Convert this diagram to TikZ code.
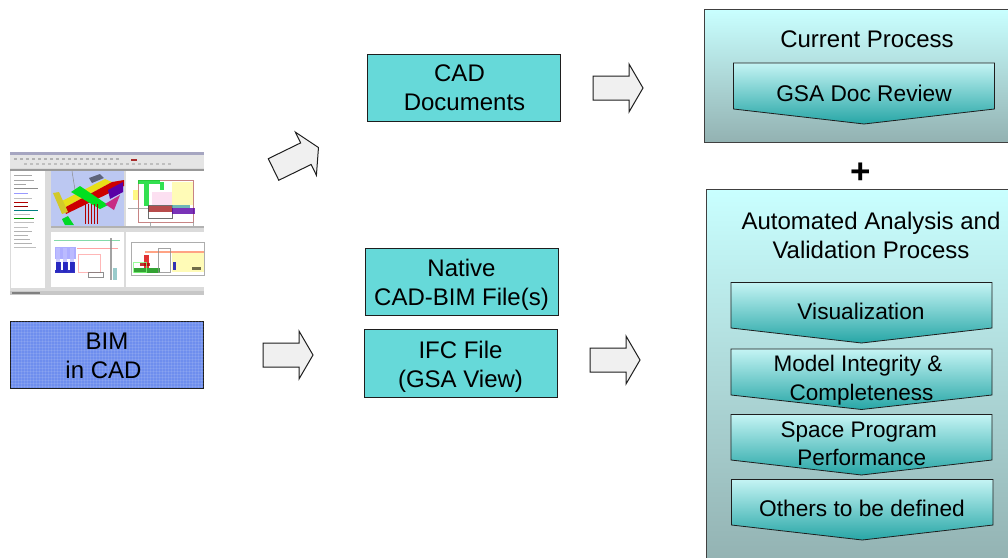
\documentclass[tikz,border=0pt]{standalone}
\usepackage{fontspec}
\setmainfont{Liberation Sans}
\definecolor{teal1}{HTML}{66D9D9}
\definecolor{bluebox}{HTML}{6E8EEE}
\definecolor{panelT}{HTML}{C9FFFF}
\definecolor{panelB}{HTML}{93B2B2}
\definecolor{chevT}{HTML}{C4F4F4}
\definecolor{chevB}{HTML}{27A6A6}
\definecolor{edge}{HTML}{1E1E1E}
\definecolor{viewbg}{HTML}{BCC8F2}
\tikzset{
  txt/.style={font=\fontsize{24}{29}\selectfont,align=center,text=black,inner sep=0pt},
  chevtxt/.style={txt,font=\fontsize{22.7}{29}\selectfont},
  filebox/.style={draw=edge,line width=.95pt,fill=teal1,minimum width=193pt,minimum height=67pt,inner sep=0pt},
  panel/.style={draw=edge!85!white,line width=1pt,top color=panelT,bottom color=panelB},
  chev/.style={draw=edge,line width=.8pt,top color=chevT,bottom color=chevB},
  blockarrow/.style={draw=edge,line width=1pt,fill=black!6,line join=miter},
}
% block arrow: centre x, centre y, rotation
\newcommand{\blockarr}[3]{%
  \draw[blockarrow,shift={(#1,#2)},rotate=#3]
    (-25,-12) -- (11,-12) -- (11,-24) -- (25,0) -- (11,24) -- (11,12) -- (-25,12) -- cycle;}
% chevron: left, right, top, side bottom, tip
\newcommand{\chevron}[5]{%
  \draw[chev] (#1,#3) -- (#2,#3) -- (#2,#4) -- ({(#1+#2)/2},#5) -- (#1,#4) -- cycle;}
\begin{document}
\begin{tikzpicture}[x=1pt,y=-1pt]
\useasboundingbox (0,0) rectangle (1008,557);
\clip (0,0) rectangle (1008,557);
\fill[white] (0,0) rectangle (1008,557);

% --- screenshot ---
\fill[black!14] (10,152) rectangle (204,295);
\fill[blue!30!black!35] (10,152) rectangle (204,155);
\fill[black!10] (10,155) rectangle (204,168);
\foreach \x in {14,20,...,120}{\fill[black!30] (\x,158) rectangle +(3,2);}
\foreach \x in {24,30,...,170}{\fill[black!25] (\x,163) rectangle +(3,2);}
\fill[red!60!black,opacity=.8] (131,159) rectangle (137,161);
\fill[black!40] (10,169) rectangle (204,171);
\fill[white] (11,171) rectangle (45,288);
\foreach \y/\c/\w in {175/black!35/18,180/black!35/20,184/black!35/12,188/black!45/24,193/blue!40/14,198/black!25/18,202/red!70!black/14,206/red!60!black/14,210/teal/24,214/black!25/16,218/green!60!black/20,222/black!25/20,227/black!25/14,231/black!30/18,235/black!30/14,239/black!30/16,243/black!30/18,247/black!25/22}
  {\fill[\c] (14,\y) rectangle +(\w,1.4);}
\fill[viewbg] (51,171) rectangle (124,226);
\fill[white] (126,171) rectangle (204,226);
\fill[white] (51,232) rectangle (124,287);
\fill[white] (126,232) rectangle (204,287);
\fill[black!30] (51,226) rectangle (204,228);
\fill[black!22] (10,291) rectangle (204,295);
\fill[black!50] (12,292) rectangle (40,294);
% 3D model
\draw[black!45,line width=.5pt] (72,171) -- (75,190);
\fill[black!50!viewbg] (89,178) -- (100,174) -- (104,178) -- (92,183) -- cycle;
\fill[yellow!90!black] (58,203) -- (105,179) -- (112,182) -- (64,208) -- cycle;
\fill[red!80!black] (64,208) -- (112,182) -- (124,180) -- (124,186) -- (66,214) -- cycle;
\fill[yellow!80!black] (53,193) -- (59,192) -- (68,212) -- (62,214) -- cycle;
\fill[green!75!teal] (71,192) -- (80,186) -- (108,205) -- (100,209) -- cycle;
\fill[green!70!teal] (62,219) -- (68,216) -- (74,225) -- (65,225) -- cycle;
\foreach \x in {85,88,91,94,97}{\draw[red!70!black,line width=.9pt] (\x,204) -- (\x,224);}
\fill[violet!70!blue] (108,190) -- (123,182) -- (123,192) -- (110,199) -- cycle;
\fill[magenta!80!black] (105,204) -- (120,195) -- (114,210) -- cycle;
% top right drawing
\begin{scope}[opacity=.8]
\draw[red!55!black!60,line width=.6pt] (138,180) rectangle (193,222);
\fill[yellow!35] (172,182) rectangle (193,205);
\fill[green!70!teal] (138,180) rectangle (160,184);
\fill[green!70!teal] (144,184) rectangle (149,206);
\fill[green!70!teal] (160,182) rectangle (164,190);
\fill[yellow!60] (133,190) rectangle (138,200);
\fill[magenta!15] (152,192) rectangle (172,205);
\fill[red!60!black,opacity=.7] (148,206) rectangle (172,212);
\draw[black!70,line width=.5pt] (148,205) rectangle (172,218);
\fill[violet!70!blue] (172,208) rectangle (195,214);
\fill[teal!70] (172,205) rectangle (190,208);
\draw[black!40,line width=.4pt] (128,208) -- (148,208) (150,222) -- (150,226) (193,222) -- (193,226);
% bottom left drawing
\draw[green!40!teal!60,line width=.5pt] (54,240) -- (120,240);
\draw[red!45,line width=.9pt] (77,248) -- (118,248);
\fill[black!45] (110,238) rectangle (112,280);
\fill[blue!40] (55,247) rectangle (76,259);
\foreach \x in {56,63,70}{\fill[blue!25] (\x,248) rectangle +(4,24);\fill[blue!70!black] (\x,262) rectangle +(5,8);}
\fill[blue!70!black] (55,270) rectangle (75,273);
\draw[red!35,line width=.4pt] (78,254) rectangle (100,272);
\draw[black!55,line width=.5pt] (88,272) rectangle (103,277);
\fill[teal!50] (113,268) rectangle (117,280);
% bottom right drawing
\draw[black!40,line width=.4pt] (131,242) rectangle (204,275);
\fill[yellow!35] (172,253) rectangle (204,272);
\fill[red!50!orange!60] (145,251) rectangle (204,253);
\fill[red!85!black] (144,255) rectangle (149,268);
\fill[red!70!black] (140,263) rectangle (150,266);
\fill[green!55!black] (134,268) rectangle (160,273);
\draw[green!50,line width=.5pt] (133,262) rectangle (146,272);
\fill[blue!70!black] (173,262) rectangle (176,270);
\fill[black!60!olive] (192,267) rectangle (201,270);
\draw[black!45,line width=.4pt] (158,248) rectangle (170,272);
\end{scope}

% --- BIM box ---
\node[filebox,fill=bluebox,minimum width=193.5pt] (bim) at (107,354.5) {};
\begin{scope}
\clip (10.5,321.5) rectangle (203.5,387.5);
\foreach \x in {12,15,...,204}{\draw[white,opacity=.1,line width=.5pt] (\x,321) -- (\x,388);}
\foreach \y in {323,326,...,388}{\draw[white,opacity=.1,line width=.5pt] (10,\y) -- (204,\y);}
\end{scope}
\node[txt] (bimtext) at (103.5,356) {\hspace*{7pt}BIM\\in CAD};

% --- file boxes ---
\node[filebox] (cad) at (463.5,87.5) {};
\node[txt] (cadtext) at (464.5,87.5) {CAD\hspace*{10pt}\\Documents};
\node[filebox] (native) at (461.5,281.5) {};
\node[txt] (nativetext) at (461.5,284.5) {Native\\CAD-BIM File(s)};
\node[filebox,minimum height=68pt] (ifc) at (460.5,363) {};
\node[txt] (ifctext) at (460.5,367) {IFC File\\(GSA View)};

% --- block arrows ---
\blockarr{296}{158.5}{26}
\blockarr{288}{355}{0}
\blockarr{618}{88}{0}
\blockarr{615}{360}{0}

% --- current process ---
\path[panel] (704.5,9.5) rectangle (1014,142);
\node[txt] (current) at (867,39) {Current Process};
\chevron{733.5}{994.5}{63}{109}{124}
\node[chevtxt] (review) at (864,93) {GSA Doc Review};

% --- plus ---
\node[font=\fontsize{35}{35}\selectfont\bfseries,inner sep=0pt] (plus) at (860.5,173) {+};

% --- automated process ---
\path[panel] (706,189) rectangle (1014,562);
\node[txt] (auto) at (871,235.5) {Automated Analysis and\\Validation Process};
\chevron{731}{992}{282.5}{328}{343}
\node[chevtxt] (vis) at (861,311) {Visualization};
\chevron{731}{992}{349}{395}{409.5}
\node[chevtxt,font=\fontsize{22.5}{29}\selectfont] (model) at (858,380.5) {Model Integrity \&\\\hspace*{7pt}Completeness};
\chevron{731}{992}{414.5}{460}{475}
\node[chevtxt,font=\fontsize{22.5}{27.5}\selectfont] (space) at (858.7,443.5) {Space Program\\\hspace*{6pt}Performance};
\chevron{731.5}{993}{479.5}{525}{540}
\node[chevtxt] (others) at (862,508) {Others to be defined};
\end{tikzpicture}
\end{document}
